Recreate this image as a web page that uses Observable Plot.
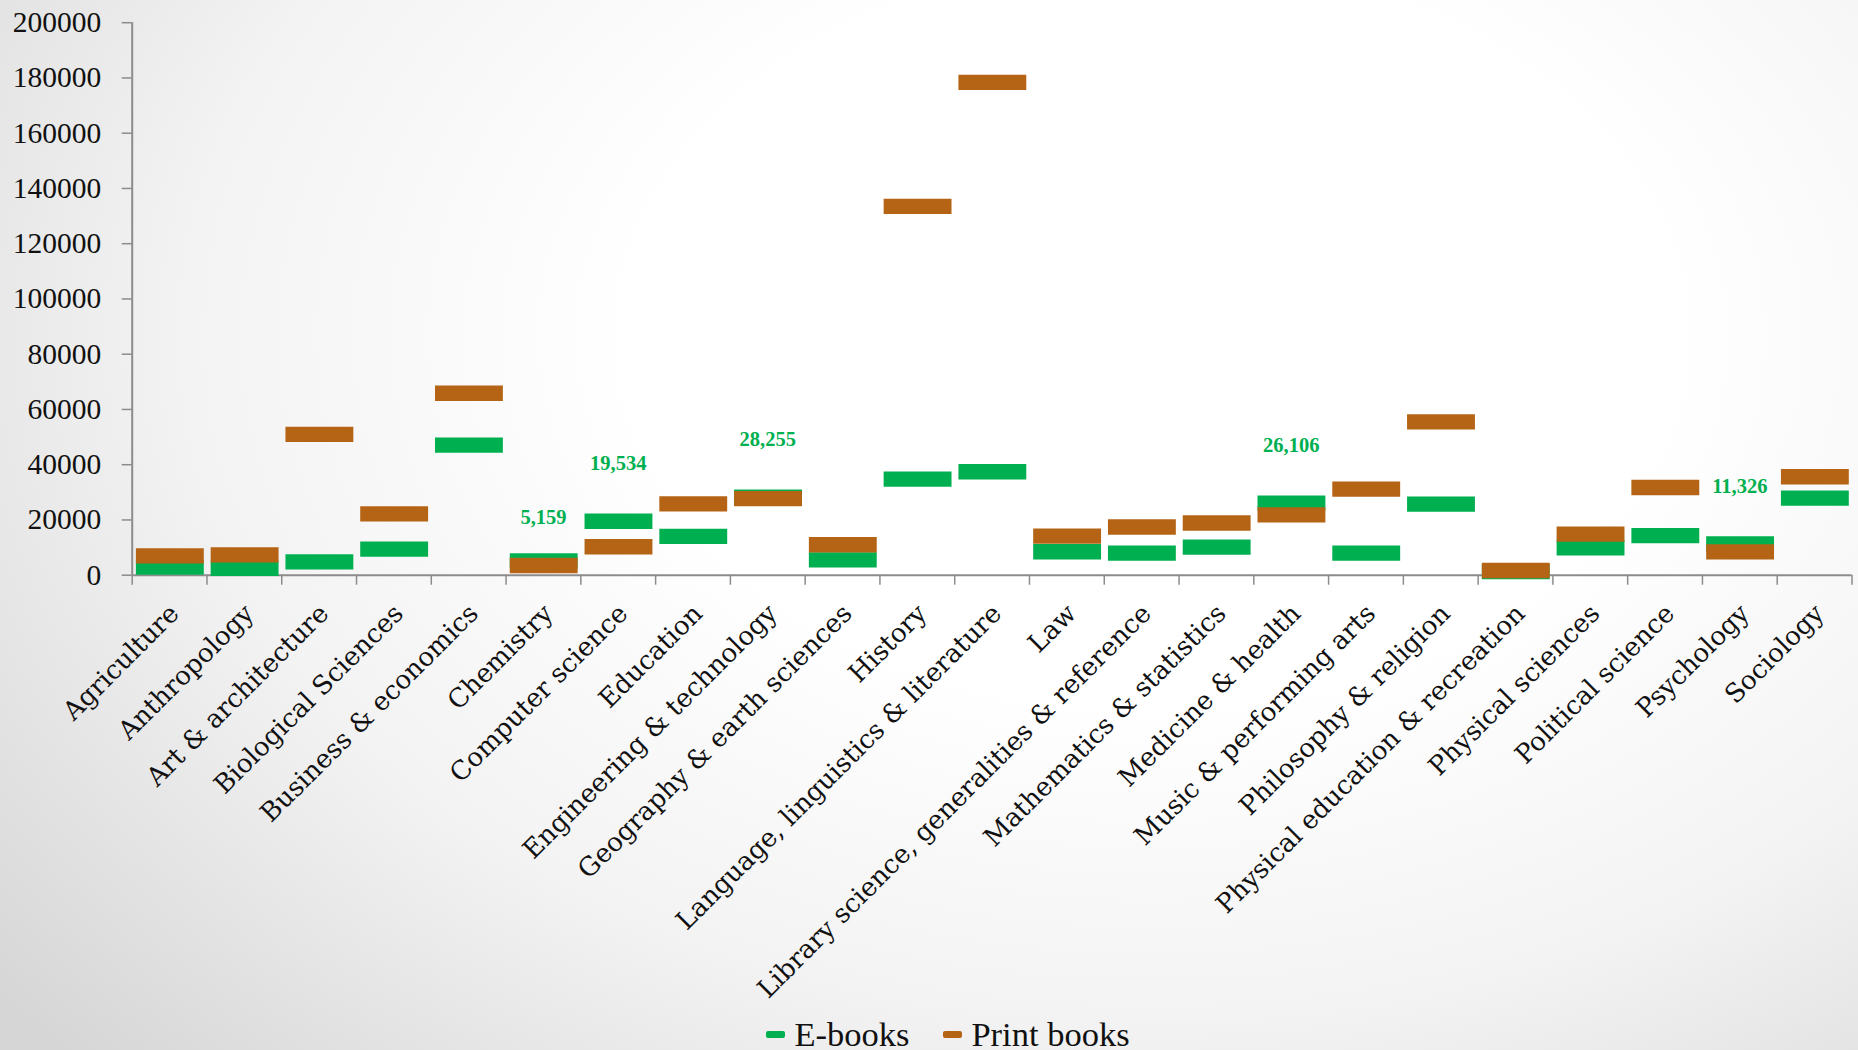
<!DOCTYPE html>
<html>
<head>
<meta charset="utf-8">
<script src="https://cdn.jsdelivr.net/npm/d3@7"></script>
<script src="https://cdn.jsdelivr.net/npm/@observablehq/plot@0.6"></script>
<style>
  html, body { margin: 0; padding: 0; width: 1858px; height: 1050px; overflow: hidden; }
  body {
    background: radial-gradient(ellipse 80% 100% at 62% 32%, #ffffff 35%, #f3f3f3 65%, #d6d6d6 100%);
  }
  #chart svg { overflow: visible; display: block; background: transparent; }
  #legend {
    display: flex; justify-content: center; align-items: center;
    height: 50px; margin-top: 9px; padding-left: 38px;
    font-family: "Liberation Serif", serif; font-size: 34.5px; color: #111;
  }
  .item { display: flex; align-items: center; }
  .sw { width: 19px; height: 7px; border-radius: 2px; margin-right: 9px; }
  .gap { width: 34px; }
</style>
</head>
<body>
<div id="chart"></div>
<div id="legend">
  <div class="item"><div class="sw" style="background:#00B050"></div><span>E-books</span></div>
  <div class="gap"></div>
  <div class="item"><div class="sw" style="background:#B46414"></div><span>Print books</span></div>
</div>
<script>
const categories = [
  "Agriculture", "Anthropology", "Art & architecture", "Biological Sciences",
  "Business & economics", "Chemistry", "Computer science", "Education",
  "Engineering & technology", "Geography & earth sciences", "History",
  "Language, linguistics & literature", "Law", "Library science, generalities & reference",
  "Mathematics & statistics", "Medicine & health", "Music & performing arts",
  "Philosophy & religion", "Physical education & recreation", "Physical sciences",
  "Political science", "Psychology", "Sociology"
];
const ebooks = [2900, 2450, 4850, 9450, 47100, 5159, 19534, 14060, 28255, 5570, 34780,
  37450, 8480, 8000, 10180, 26106, 8000, 25750, 1300, 9940, 14300, 11326, 27880];
const printBooks = [7030, 7390, 50970, 22180, 65860, 3510, 10300, 25800, 27750, 11030, 133500,
  178400, 14180, 17450, 18900, 21820, 31150, 55500, 1700, 14900, 31750, 8420, 35630];
const labeled = ["Chemistry", "Computer science", "Engineering & technology", "Medicine & health", "Psychology"];
const yTicks = [0, 20000, 40000, 60000, 80000, 100000, 120000, 140000, 160000, 180000, 200000];

const series = [
  {name: "E-books", values: ebooks, color: "#00B050"},
  {name: "Print books", values: printBooks, color: "#B46414"}
];
const rows = series.flatMap(s => categories.map((c, i) => ({i, cat: c, value: s.values[i], series: s.name})));
const eRows = rows.filter(d => d.series === "E-books");
const pRows = rows.filter(d => d.series === "Print books");
const lblRows = eRows.filter(d => labeled.includes(d.cat));

const H = 1000;
const yBase = 574.7;
const numFont = "Liberation Serif";

const chart = Plot.plot({
  width: 1858,
  height: H,
  marginLeft: 131.7,
  marginRight: 6.5,
  marginTop: 22.2,
  marginBottom: H - yBase,
  style: {background: "transparent", overflow: "visible"},
  x: {type: "linear", domain: [0, categories.length], axis: null},
  y: {domain: [0, 200000], axis: null},
  color: {domain: series.map(s => s.name), range: series.map(s => s.color)},
  marks: [
    Plot.ruleX([0], {stroke: "#8c8c8c", strokeWidth: 2}),
    Plot.ruleY([0], {stroke: "#8c8c8c", strokeWidth: 2}),
    Plot.axisY({ticks: yTicks, tickSize: 10, tickPadding: 21, tickFormat: d3.format("d"), label: null,
      stroke: "#8c8c8c", strokeWidth: 1.5, fill: "#111", fontSize: 29.5, fontFamily: numFont}),
    Plot.axisX({ticks: d3.range(categories.length + 1), tickSize: 10, tickFormat: () => "", label: null,
      stroke: "#8c8c8c", strokeWidth: 1.5}),
    Plot.axisX({ticks: categories.map((c, i) => i + 0.5), tickFormat: d => categories[Math.floor(d)],
      label: null, tickSize: 0, tickRotate: -45, tickPadding: 34, dx: 5, fill: "#111",
      fontSize: 26, fontFamily: "DejaVu Serif"}),
    Plot.ruleY(eRows, {y: "value", x1: d => d.i, x2: d => d.i + 1, stroke: "series",
      strokeWidth: 15.3, insetLeft: 4.2, insetRight: 2.7}),
    Plot.ruleY(pRows, {y: "value", x1: d => d.i, x2: d => d.i + 1, stroke: "series",
      strokeWidth: 15.3, insetLeft: 4.2, insetRight: 2.7}),
    Plot.text(lblRows.filter(d => d.cat !== "Chemistry"), {x: d => d.i + 0.5, y: "value",
      text: d => d3.format(",")(d.value), dy: -57.7, fill: "#00B050",
      fontWeight: "bold", fontSize: 20.5, fontFamily: numFont}),
    Plot.text(lblRows.filter(d => d.cat === "Chemistry"), {x: d => d.i + 0.5, y: "value",
      text: d => d3.format(",")(d.value), dy: -43.4, fill: "#00B050",
      fontWeight: "bold", fontSize: 20.5, fontFamily: numFont})
  ]
});
document.getElementById("chart").appendChild(chart);
</script>
</body>
</html>
